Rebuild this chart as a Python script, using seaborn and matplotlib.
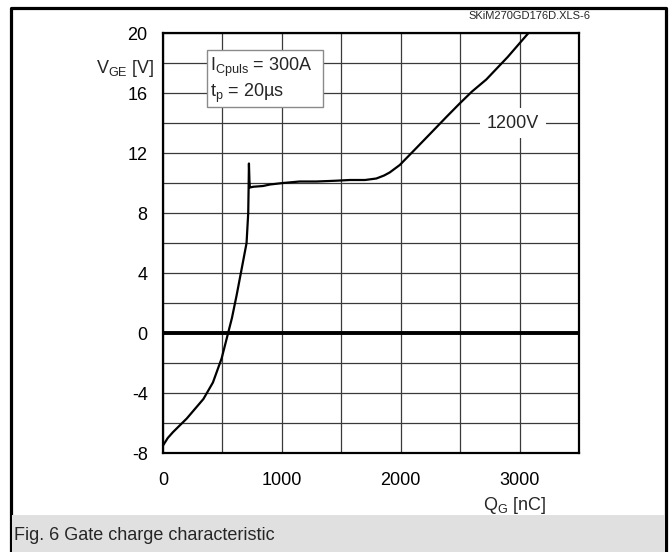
import numpy as np
import pandas as pd
import matplotlib
matplotlib.use("Agg")
import matplotlib.pyplot as plt
from matplotlib.patches import Rectangle
from matplotlib.lines import Line2D
from matplotlib.ticker import MultipleLocator
import seaborn as sns

# Gate charge curve (1200V)
qg_nc = [0, 40, 85, 200, 340, 420, 493, 535, 580, 619, 660, 703, 717, 720, 723,
         727, 731, 760, 842, 900, 1010, 1150, 1291, 1450, 1571, 1700, 1795, 1860,
         1907, 1992, 2103, 2250, 2384, 2496, 2600, 2720, 2900, 3075]
vge_v = [-7.5, -7.0, -6.6, -5.7, -4.4, -3.3, -1.7, -0.4, 1.0, 2.5, 4.2, 6.0, 8.0,
         9.5, 11.3, 10.2, 9.7, 9.75, 9.8, 9.9, 10.0, 10.1, 10.1, 10.15, 10.2, 10.2,
         10.3, 10.5, 10.7, 11.2, 12.1, 13.3, 14.4, 15.3, 16.1, 16.9, 18.4, 20.0]

x_ticks = [0, 1000, 2000, 3000]
y_ticks = [-8, -4, 0, 4, 8, 12, 16, 20]

sns.set_theme(style="white")
plt.rcParams['font.family'] = ['Liberation Sans', 'DejaVu Sans']
plt.rcParams['mathtext.default'] = 'regular'
plt.rcParams['axes.unicode_minus'] = False

df = pd.DataFrame({'qg': qg_nc, 'vge': vge_v})

fig = plt.figure(figsize=(6.69, 5.52), dpi=100)
ax = fig.add_axes([163 / 669, 99 / 552, 416 / 669, 420 / 552])

ax.set_xlim(0, 3500)
ax.set_ylim(-8, 20)
ax.xaxis.set_major_locator(MultipleLocator(1000))
ax.xaxis.set_minor_locator(MultipleLocator(500))
ax.yaxis.set_major_locator(MultipleLocator(4))
ax.yaxis.set_minor_locator(MultipleLocator(2))
ax.set_xticks(x_ticks)
ax.set_yticks(y_ticks)
ax.grid(True, which='both', color='#3a3a3a', linewidth=0.9, zorder=0)
ax.set_axisbelow(True)
ax.tick_params(which='both', length=0, labelsize=13, colors='black')
ax.tick_params(axis='x', pad=14)
ax.tick_params(axis='y', pad=11)
for s in ax.spines.values():
    s.set_color('black')
    s.set_linewidth(1.6)

ax.axhline(0, color='black', linewidth=2.8, zorder=2)

sns.lineplot(data=df, x='qg', y='vge', sort=False, estimator=None,
             color='black', linewidth=1.6, ax=ax, zorder=3)
ax.set_xlabel('')
ax.set_ylabel('')

# parameter box
ax.add_patch(Rectangle((370, 15.07), 976, 3.8, facecolor='white',
                       edgecolor='#8a8a8a', linewidth=1.0, zorder=4))
ax.text(395, 17.47, r'I$_{Cpuls}$ = 300A', fontsize=13, va='baseline', zorder=5)
ax.text(395, 15.75, r't$_{p}$ = 20µs', fontsize=13, va='baseline', zorder=5)

ax.text(2944, 14, '1200V', fontsize=13, ha='center', va='center', zorder=5,
        bbox=dict(facecolor='white', edgecolor='none', pad=5))

ax.text(-0.019, 17.35, r'V$_{GE}$ [V]', fontsize=13, ha='right', va='baseline',
        transform=ax.get_yaxis_transform())
ax.text(2960, -0.136, r'Q$_{G}$ [nC]', fontsize=13, ha='center', va='baseline',
        transform=ax.get_xaxis_transform())

# outer frame and caption strip
fig.add_artist(Line2D([10.5 / 669, 10.5 / 669, 666 / 669, 666 / 669],
                      [0, 1 - 8 / 552, 1 - 8 / 552, 0],
                      color='black', linewidth=2.3, transform=fig.transFigure))
fig.add_artist(Rectangle((12 / 669, 0), 653 / 669, 37 / 552, facecolor='#e0e0e0',
                         edgecolor='none', transform=fig.transFigure, zorder=3))
fig.text(14 / 669, 1 - 535 / 552, 'Fig. 6 Gate charge characteristic', fontsize=13,
         va='center', ha='left', zorder=4)
fig.text(590 / 669, 1 - 16 / 552, 'SKiM270GD176D.XLS-6', fontsize=8, ha='right',
         va='center')

fig.savefig('out.png', dpi=100)
